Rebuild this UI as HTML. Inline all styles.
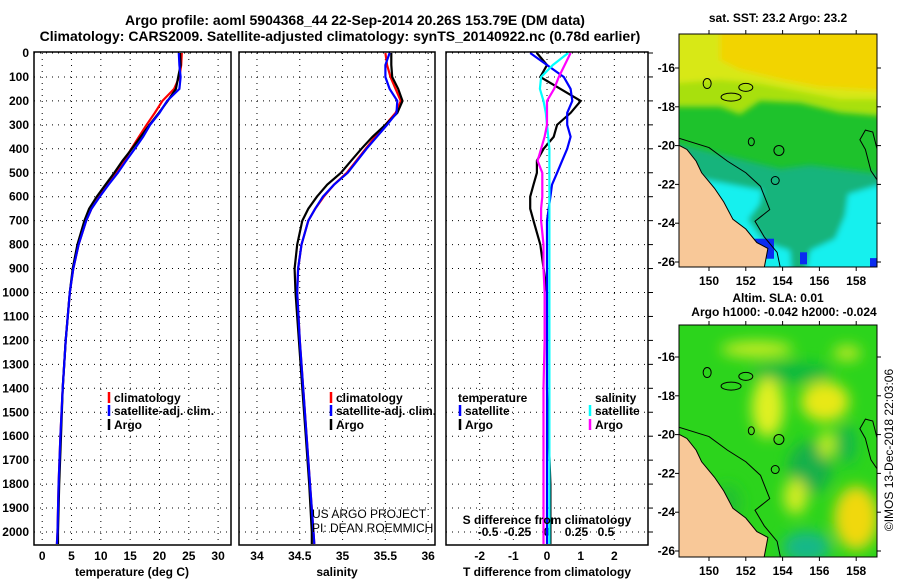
<!DOCTYPE html>
<html><head><meta charset="utf-8"><style>
body{margin:0;background:#fff}
svg{display:block}
text{font-family:"Liberation Sans",sans-serif;font-weight:bold;font-size:12px;fill:#000}
.t{font-size:14px}
.lite{font-weight:normal}
</style></head><body>
<svg id="c" width="900" height="580" viewBox="0 0 900 580" xmlns="http://www.w3.org/2000/svg">
<defs><filter id="bl" x="-50%" y="-50%" width="200%" height="200%"><feGaussianBlur stdDeviation="7"/></filter>
<filter id="bl2" x="-50%" y="-50%" width="200%" height="200%"><feGaussianBlur stdDeviation="3"/></filter></defs>
<text class="t" x="355" y="25" text-anchor="middle">Argo profile: aoml 5904368_44 22-Sep-2014 20.26S 153.79E (DM data)</text>
<text class="t" x="340" y="41" text-anchor="middle">Climatology: CARS2009. Satellite-adjusted climatology: synTS_20140922.nc (0.78d earlier)</text>
<g id="g"></g>
</svg>
<script>
const depths=[0,50,100,150,200,250,300,350,400,450,500,550,600,650,700,800,900,1000,1200,1400,1600,1800,2000,2050];
const tClim=[23.8,23.7,23.4,22.5,20.5,19.2,17.8,16.5,15.2,14,12.6,11.1,9.7,8.4,7.5,6.2,5.3,4.7,4.0,3.5,3.1,2.8,2.6,2.5];
const tSat=[23.3,23.4,23.6,23.4,21.3,20.0,18.4,17.2,15.8,14.3,12.9,11.3,9.8,8.4,7.5,6.2,5.3,4.7,4.0,3.5,3.1,2.8,2.6,2.5];
const tArgo=[23.5,23.6,23.2,22.8,21.4,19.9,18.3,16.8,15.3,13.7,12.3,10.8,9.3,8.0,7.2,6.0,5.2,4.7,4.0,3.5,3.2,2.9,2.7,2.7];
const sClim=[35.5,35.52,35.56,35.62,35.68,35.62,35.5,35.38,35.27,35.16,35.05,34.9,34.78,34.68,34.6,34.52,34.48,34.47,34.5,34.54,34.58,34.62,34.66,34.67];
const sSat=[35.55,35.5,35.5,35.55,35.64,35.63,35.52,35.4,35.28,35.17,35.06,34.9,34.77,34.68,34.6,34.52,34.48,34.47,34.5,34.54,34.58,34.62,34.66,34.67];
const sArgo=[35.57,35.57,35.58,35.65,35.7,35.64,35.5,35.35,35.22,35.1,34.98,34.82,34.7,34.6,34.53,34.47,34.44,34.45,34.49,34.53,34.57,34.61,34.64,34.64];
const dTArgo=[-0.3,0.0,-0.2,0.4,1.0,0.7,0.3,0.2,-0.1,-0.3,-0.3,-0.4,-0.5,-0.5,-0.4,-0.2,-0.1,0,0,0,0.05,0.1,0.1,0.1];
const dTSat=[-0.5,0.0,0.5,0.7,0.75,0.6,0.6,0.7,0.6,0.45,0.3,0.15,0.1,0.05,0,0,0,0,0,0,0,0,0,0];
const dSSat=[0.18,0.05,-0.05,-0.06,-0.03,-0.01,0,0.01,0.02,0.02,0.02,0.02,0.02,0.02,0.02,0.02,0.02,0.02,0.02,0.02,0.02,0.02,0.02,0.02];
const dSArgo=[0.2,0.15,0.1,0.06,0.0,0.0,0.0,-0.02,-0.05,-0.08,-0.04,-0.04,-0.04,-0.05,-0.05,-0.03,-0.03,-0.02,-0.02,-0.03,-0.03,-0.03,-0.03,-0.03];
const depthTicks=[0,100,200,300,400,500,600,700,800,900,1000,1100,1200,1300,1400,1500,1600,1700,1800,1900,2000];
const tTicks=[0,5,10,15,20,25,30];
const sTicks=[34,34.5,35,35.5,36];
const dTTicks=[-2,-1,0,1,2];
const dSTicks=[-0.5,-0.25,0,0.25,0.5];
const dSLabels=["-0.5","-0.25","0","0.25","0.5"];

const NS='http://www.w3.org/2000/svg';
const G=document.getElementById('g');
function mk(t,a,p){const e=document.createElementNS(NS,t);for(const k in a)e.setAttribute(k,a[k]);(p||G).appendChild(e);return e;}
const top0=53,py=(d)=>top0+d*(532-53)/2000;
const panels=[
 {x0:34,x1:231,v0:-1.4,v1:32.2,name:'temperature'},
 {x0:239,x1:435,v0:33.79,v1:36.08,name:'salinity'},
 {x0:446,x1:648,v0:-3.0,v1:3.0,name:'t-difference'}];
function sx(p,v){return p.x0+(v-p.v0)/(p.v1-p.v0)*(p.x1-p.x0);}
const pS={x0:446,x1:648,v0:-0.857,v1:0.857};
function dotH(p){depthTicks.forEach(d=>{const l=mk('line',{x1:p.x0,x2:p.x1,y1:py(d),y2:py(d),stroke:'#000','stroke-width':1,'stroke-dasharray':'1,5'});});}
function line(p,vals,col,name,sc){const pts=vals.map((v,i)=>(sc?sc(v):sx(p,v)).toFixed(1)+','+py(depths[i]).toFixed(1)).join(' ');const e=mk('polyline',{points:pts,fill:'none',stroke:col,'stroke-width':2.2});}
panels.forEach(p=>dotH(p));
depthTicks.forEach(d=>{const l=mk('line',{x1:648,x2:653,y1:py(d),y2:py(d),stroke:'#000'});});
function vg(p,ticks,labels,yl,sc){ticks.forEach((t,i)=>{const x=sc?sc(t):sx(p,t);const l=mk('line',{x1:x,x2:x,y1:top0,y2:545,stroke:'#000','stroke-dasharray':'1,5'});
 if(yl){const tx=mk('text',{x:x,y:yl,'text-anchor':'middle'});tx.textContent=labels[i];}});}
vg(panels[0],tTicks,tTicks,560);
vg(panels[1],sTicks,sTicks,560);
vg(panels[2],dTTicks,dTTicks,560);
const sS=v=>pS.x0+(v-pS.v0)/(pS.v1-pS.v0)*(pS.x1-pS.x0);
dSTicks.forEach((t,i)=>{const tx=mk('text',{x:sS(t),y:536,'text-anchor':'middle'});tx.textContent=dSLabels[i];});
depthTicks.forEach(d=>{const tx=mk('text',{x:29,y:py(d)+4,'text-anchor':'end'});tx.textContent=d;});
line(panels[0],tClim,'#f00','temp-climatology-line');
line(panels[0],tArgo,'#000','temp-argo-line');
line(panels[0],tSat,'#00f','temp-satellite-line');
line(panels[1],sClim,'#f00','sal-climatology-line');
line(panels[1],sArgo,'#000','sal-argo-line');
line(panels[1],sSat,'#00f','sal-satellite-line');
line(panels[2],dTArgo,'#000','tdiff-argo-line');
line(panels[2],dTSat,'#00f','tdiff-satellite-line');
line(panels[2],dSSat,'#0ff','sdiff-satellite-line',sS);
line(panels[2],dSArgo,'#f0f','sdiff-argo-line',sS);
panels.forEach(p=>{const r=mk('rect',{x:p.x0,y:top0-1,width:p.x1-p.x0,height:545-top0+1,fill:'none',stroke:'#000','stroke-width':1.5});});
function txt(x,y,s,name,anchor,cls){const t=mk('text',{x:x,y:y,'text-anchor':anchor||'start'});if(cls)t.setAttribute('class',cls);t.textContent=s;return t;}
txt(132,576,'temperature (deg C)','temperature-axis-title','middle');
txt(337,576,'salinity','salinity-axis-title','middle');
txt(547,576,'T difference from climatology','t-diff-axis-title','middle');
txt(547,524,'S difference from climatology','s-diff-axis-title','middle');
txt(312,518,'US ARGO PROJECT','credit-project','start','lite');
txt(312,532,'PI: DEAN ROEMMICH','credit-pi','start','lite');
function leg(x,y,col,s,name){const l=mk('line',{x1:x,x2:x,y1:y-10,y2:y+1,stroke:col,'stroke-width':2.5});txt(x+5,y,s,name+'-label');}
leg(109,402,'#f00','climatology','legend-climatology');
leg(109,415,'#00f','satellite-adj. clim.','legend-satellite-adj');
leg(109,429,'#000','Argo','legend-argo');
leg(331,402,'#f00','climatology','legend-sal-climatology');
leg(331,415,'#00f','satellite-adj. clim.','legend-sal-satellite-adj');
leg(331,429,'#000','Argo','legend-sal-argo');
txt(458,402,'temperature','legend-tdiff-title');
leg(460,415,'#00f','satellite','legend-tdiff-satellite');
leg(460,429,'#000','Argo','legend-tdiff-argo');
txt(595,402,'salinity','legend-sdiff-title');
leg(590,415,'#0ff','satellite','legend-sdiff-satellite');
leg(590,429,'#f0f','Argo','legend-sdiff-argo');
// maps
function map(y0,y1,latTop,kind){
 const x0=679,x1=877;
 const mx=lon=>709+(lon-150)*18.4;
 const myy=lat=>latTop-(lat+16)*19.4;
 const g=mk('g',{});
 const clip='clip'+kind;const cp=mk('clipPath',{id:clip},g);mk('rect',{x:x0,y:y0,width:x1-x0,height:y1-y0},cp);
 const inner=mk('g',{'clip-path':'url(#'+clip+')'},g);
 if(kind==='sst'){
  mk('rect',{x:x0,y:y0,width:x1-x0,height:y1-y0,fill:'#1ec22c'},inner);
  const b=mk('g',{filter:'url(#bl2)'},inner);
  mk('polygon',{points:`${x0-10},${y0-10} ${x1+10},${y0-10} ${x1+10},${myy(-18.5)} 840,${myy(-18.3)} 800,${myy(-17.8)} 760,${myy(-17.7)} 740,${myy(-18.4)} 720,${myy(-18.0)} ${x0-10},${myy(-18.0)}`,fill:'#a8e010'},b);
  mk('polygon',{points:`${x0-10},${y0-10} ${x1+10},${y0-10} ${x1+10},${myy(-17.6)} 840,${myy(-17.6)} 800,${myy(-17.2)} 760,${myy(-16.8)} 720,${myy(-16.6)} ${x0-10},${myy(-16.8)}`,fill:'#d8e818'},b);
  mk('polygon',{points:`720,${y0-10} ${x1+10},${y0-10} ${x1+10},${myy(-17.2)} 820,${myy(-17.0)} 780,${myy(-16.6)} 740,${myy(-16.1)} 720,${myy(-15.6)}`,fill:'#f2d400'},b);
  mk('polygon',{points:`${x0-10},${myy(-19.8)} 740,${myy(-20.7)} 780,${myy(-21.2)} 810,${myy(-21.0)} 840,${myy(-21.2)} ${x1+10},${myy(-21.5)} ${x1+10},${y1+10} ${x0-10},${y1+10}`,fill:'#14b47c'},b);
  mk('polygon',{points:`${x0-10},${myy(-21.4)} 730,${myy(-22.0)} 762,${myy(-22.3)} 760,${myy(-23.0)} 748,${myy(-23.8)} 765,${myy(-25.0)} 790,${myy(-25.4)} 792,${y1+10} ${x0-10},${y1+10}`,fill:'#18f0ee'},b);
  mk('polygon',{points:`805,${y1+10} 810,${myy(-25.4)} 835,${myy(-24.8)} 845,${myy(-23.6)} 848,${myy(-22.5)} ${x1+10},${myy(-21.9)} ${x1+10},${y1+10}`,fill:'#18f0ee'},b);
  mk('rect',{x:752,y:myy(-24.8),width:22,height:20,fill:'#0a2cf0'},inner);
  mk('rect',{x:800,y:myy(-25.5),width:7,height:12,fill:'#0a2cf0'},inner);
  mk('rect',{x:870,y:myy(-25.8),width:7,height:12,fill:'#0a2cf0'},inner);
 }else{
  mk('rect',{x:x0,y:y0,width:x1-x0,height:y1-y0,fill:'#2cd41c'},inner);
  const b=mk('g',{filter:'url(#bl)'},inner);
  [[154.5,-16.8,40,10,'#10b840'],[155.5,-21.7,22,26,'#18b048'],[157.5,-20.5,10,20,'#18b848'],[151,-23.5,14,18,'#20c030'],
   [153.2,-18.6,16,30,'#e0f020'],[156.3,-18.3,24,20,'#e8e818'],[158,-24.3,22,32,'#f0d810'],[154.7,-23.2,12,18,'#d0ec20'],[152.6,-15.6,36,8,'#c8ec20'],[156.4,-20.5,8,14,'#c8ec20'],[157.5,-15.8,14,8,'#b8e820'],
   [155.3,-25.8,24,16,'#18b888']].forEach(c=>{mk('ellipse',{cx:mx(c[0]),cy:myy(c[1]),rx:c[2],ry:c[3],fill:c[4]},b);});
 }
 const coast=[[148,-19.8],[148.8,-20.2],[149.3,-20.8],[149.6,-21.4],[150.3,-22.2],[150.8,-22.9],[151.3,-23.8],[152.0,-24.3],[152.6,-25.0],[153.2,-25.3],[153.0,-26.3],[152.9,-27],[148,-27]];
 mk('polygon',{points:coast.map(c=>mx(c[0])+','+myy(c[1])).join(' '),fill:'#f8c898',stroke:'#000','stroke-width':1},inner);
 mk('polyline',{points:[[148.3,-19.6],[150,-20.1],[151,-20.8],[152,-21.4],[152.8,-22.1],[153.3,-23.3],[152.5,-23.9],[153,-24.7],[153.7,-25.5],[153.9,-26.4]].map(c=>mx(c[0])+','+myy(c[1])).join(' '),fill:'none',stroke:'#000','stroke-width':1},inner);
 mk('polyline',{points:[[159.3,-22.0],[158.8,-21.3],[158.5,-20.2],[158.2,-19.7],[158.5,-19.2],[158.9,-19.3],[159.3,-20.8]].map(c=>mx(c[0])+','+myy(c[1])).join(' '),fill:'none',stroke:'#000','stroke-width':1},inner);
 mk('circle',{cx:mx(153.8),cy:myy(-20.25),r:5,fill:'none',stroke:'#000'},inner);
 mk('ellipse',{cx:mx(152.3),cy:myy(-19.8),rx:3,ry:4,fill:'none',stroke:'#000'},inner);
 mk('ellipse',{cx:mx(151.2),cy:myy(-17.5),rx:10,ry:4,fill:'none',stroke:'#000'},inner);
 mk('ellipse',{cx:mx(152.0),cy:myy(-17.0),rx:7,ry:4,fill:'none',stroke:'#000'},inner);
 mk('ellipse',{cx:mx(149.9),cy:myy(-16.8),rx:4,ry:5,fill:'none',stroke:'#000'},inner);
 mk('ellipse',{cx:mx(153.6),cy:myy(-21.8),rx:4,ry:4,fill:'none',stroke:'#000'},inner);
 mk('rect',{x:x0,y:y0,width:x1-x0,height:y1-y0,fill:'none',stroke:'#000','stroke-width':1},g);
 [150,152,154,156,158].forEach(l=>{const x=mx(l);mk('line',{x1:x,x2:x,y1:y0,y2:y0-4,stroke:'#000'},g);mk('line',{x1:x,x2:x,y1:y1,y2:y1+4,stroke:'#000'},g);txt(x,y1+18,String(l),'map-lon-label','middle');});
 [-16,-18,-20,-22,-24,-26].forEach(l=>{const y=myy(l);mk('line',{x1:x1,x2:x1+4,y1:y,y2:y,stroke:'#000'},g);mk('line',{x1:x0-4,x2:x0,y1:y,y2:y,stroke:'#000'},g);txt(x0-4,y+4,String(l),'map-lat-label','end');});
}
map(34,267,68,'sst');
map(325,557,357,'sla');
txt(778,22,'sat. SST: 23.2 Argo: 23.2','sst-map-title','middle');
txt(778,302,'Altim. SLA: 0.01','sla-map-title','middle');
txt(784,316,'Argo h1000: -0.042 h2000: -0.024','sla-map-subtitle','middle');
const v=txt(0,0,'©IMOS 13-Dec-2018 22:03:06','timestamp','middle','lite');
v.setAttribute('transform','translate(893,450) rotate(-90)');
</script>
</body></html>
